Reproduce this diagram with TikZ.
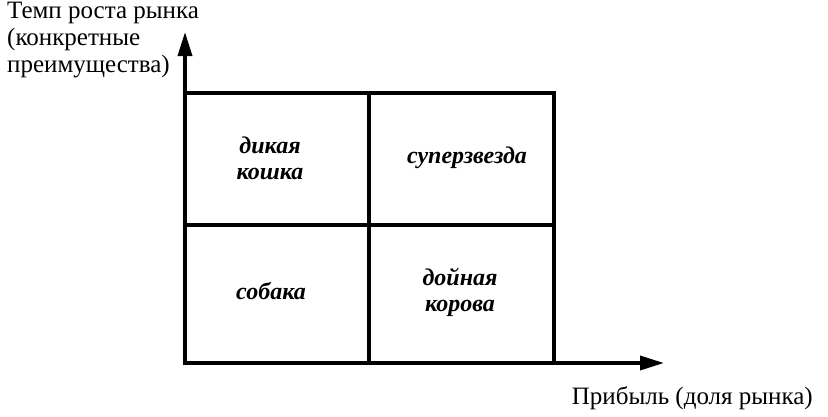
\documentclass[tikz,border=0pt]{standalone}
\usepackage{fontspec}
\setmainfont{Liberation Serif}
\usetikzlibrary{arrows.meta}
\begin{document}
\begin{tikzpicture}[x=1pt,y=-1pt,
  gridline/.style={line width=3.5pt,line cap=rect},
  axis/.style={line width=3.5pt,-{Triangle[length=24pt,width=14pt]}},
  cell/.style={font=\fontsize{24}{26}\selectfont\bfseries\itshape,align=center},
  axlabel/.style={font=\fontsize{25}{27}\selectfont,align=left}]
\useasboundingbox (0,0) rectangle (828,416);
\coordinate (O) at (185,363);
\coordinate (ytip) at (185,32);
\coordinate (xtip) at (664,363);
\draw[axis] (O) -- (ytip);
\draw[axis] (O) -- (xtip);
\draw[gridline] (185,93) rectangle (554,363);
\draw[gridline] (369,93) -- (369,363);
\draw[gridline] (185,225) -- (554,225);
\node[cell] (wild) at (270,158) {дикая\\кошка};
\node[cell] (star) at (467,158) {суперзвезда};
\node[cell] (dog) at (271,291) {собака};
\node[cell] (cow) at (460,292) {дойная\\корова};
\node[axlabel,anchor=north west,inner sep=0pt] (ylab) at (7,2) {Темп роста рынка\\(конкретные\\преимущества)};
\node[axlabel,anchor=south east,inner sep=0pt] (xlab) at (813,410) {Прибыль (доля рынка)};
\end{tikzpicture}
\end{document}
